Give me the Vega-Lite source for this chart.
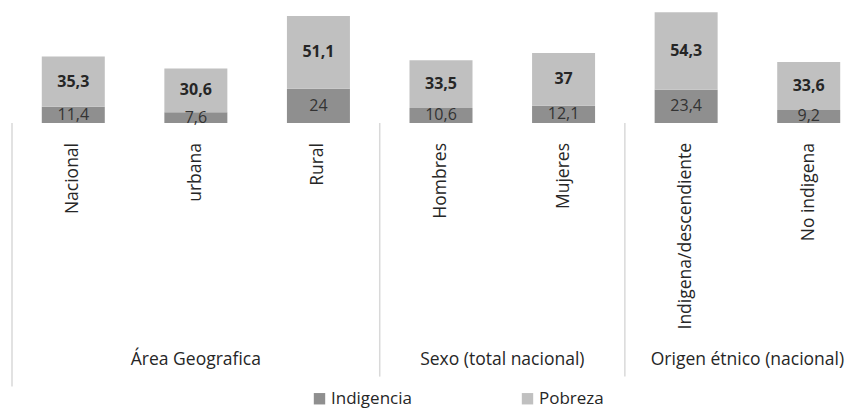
{
  "$schema": "https://vega.github.io/schema/vega-lite/v6.json",
  "width": 858,
  "height": 379,
  "autosize": {"type": "none"},
  "padding": {"left": 12, "top": 9, "right": 0, "bottom": 21},
  "background": "white",
  "config": {
    "view": {"stroke": null},
    "font": "Open Sans",
    "locale": {"number": {"decimal": ",", "thousands": ".", "grouping": [3], "currency": ["", " €"]}}
  },
  "datasets": {
    "valores": [
      {"categoria": "Nacional", "serie": "Indigencia", "valor": 11.4},
      {"categoria": "Nacional", "serie": "Pobreza", "valor": 35.3},
      {"categoria": "urbana", "serie": "Indigencia", "valor": 7.6},
      {"categoria": "urbana", "serie": "Pobreza", "valor": 30.6},
      {"categoria": "Rural", "serie": "Indigencia", "valor": 24},
      {"categoria": "Rural", "serie": "Pobreza", "valor": 51.1},
      {"categoria": "Hombres", "serie": "Indigencia", "valor": 10.6},
      {"categoria": "Hombres", "serie": "Pobreza", "valor": 33.5},
      {"categoria": "Mujeres", "serie": "Indigencia", "valor": 12.1},
      {"categoria": "Mujeres", "serie": "Pobreza", "valor": 37},
      {"categoria": "Indigena/descendiente", "serie": "Indigencia", "valor": 23.4},
      {"categoria": "Indigena/descendiente", "serie": "Pobreza", "valor": 54.3},
      {"categoria": "No indigena", "serie": "Indigencia", "valor": 9.2},
      {"categoria": "No indigena", "serie": "Pobreza", "valor": 33.6}
    ],
    "grupos": [
      {"grupo": "Área Geografica", "inicio": "Nacional", "ancla": "urbana", "tipo": "impar"},
      {"grupo": "Sexo (total nacional)", "inicio": "Hombres", "ancla": "Mujeres", "tipo": "par"},
      {"grupo": "Origen étnico (nacional)", "inicio": "Indigena/descendiente", "ancla": "No indigena", "tipo": "par"}
    ]
  },
  "layer": [
    {
      "data": {"name": "valores"},
      "mark": {"type": "bar", "width": {"band": 0.514}},
      "encoding": {
        "x": {"field": "categoria", "type": "nominal", "axis": null,
          "scale": {"domain": ["Nacional", "urbana", "Rural", "Hombres", "Mujeres", "Indigena/descendiente", "No indigena"], "paddingInner": 0, "paddingOuter": 0}},
        "y": {"field": "valor", "type": "quantitative", "stack": "zero", "axis": null,
          "scale": {"domain": [-186, 80], "nice": false, "zero": false}},
        "color": {"field": "serie", "type": "nominal",
          "scale": {"domain": ["Indigencia", "Pobreza"], "range": ["#8f8f8f", "#c0c0c0"]},
          "legend": {"orient": "none", "legendX": 299, "legendY": 381, "direction": "horizontal", "title": null,
            "symbolType": "square", "symbolSize": 130, "symbolStrokeWidth": 0, "labelFontSize": 17, "labelFont": "Open Sans",
            "labelColor": "#262626", "columnPadding": 107, "labelOffset": 3, "padding": 0}},
        "order": {"field": "serie", "sort": "ascending"}
      }
    },
    {
      "data": {"name": "valores"},
      "transform": [
        {"stack": "valor", "groupby": ["categoria"], "sort": [{"field": "serie", "order": "ascending"}], "as": ["v0", "v1"]},
        {"fold": ["v0", "v1"], "as": ["extremo", "pos"]},
        {"aggregate": [{"op": "mean", "field": "pos", "as": "medio"}], "groupby": ["categoria", "serie", "valor"]}
      ],
      "layer": [
        {
          "transform": [{"filter": "datum.serie === 'Pobreza'"}],
          "mark": {"type": "text", "fontSize": 16, "fontWeight": "bold", "color": "#262626", "baseline": "middle"},
          "encoding": {
            "x": {"field": "categoria", "type": "nominal"},
            "y": {"field": "medio", "type": "quantitative"},
            "text": {"field": "valor", "type": "quantitative", "format": "~r"}
          }
        },
        {
          "transform": [{"filter": "datum.serie === 'Indigencia'"}],
          "mark": {"type": "text", "fontSize": 16, "color": "#333333", "baseline": "middle"},
          "encoding": {
            "x": {"field": "categoria", "type": "nominal"},
            "y": {"field": "medio", "type": "quantitative"},
            "text": {"field": "valor", "type": "quantitative", "format": "~r"}
          }
        }
      ]
    },
    {
      "data": {"name": "valores"},
      "transform": [{"filter": "datum.serie === 'Pobreza'"}],
      "mark": {"type": "text", "angle": 270, "align": "right", "baseline": "middle", "dx": -20, "fontSize": 17.5, "color": "#262626"},
      "encoding": {
        "x": {"field": "categoria", "type": "nominal"},
        "y": {"datum": 0},
        "text": {"field": "categoria"}
      }
    },
    {
      "data": {"name": "grupos"},
      "transform": [{"filter": "datum.tipo === 'impar'"}],
      "mark": {"type": "text", "baseline": "middle", "fontSize": 17.5, "color": "#262626"},
      "encoding": {
        "x": {"field": "ancla", "type": "nominal", "bandPosition": 0.5},
        "y": {"datum": -166},
        "text": {"field": "grupo"}
      }
    },
    {
      "data": {"name": "grupos"},
      "transform": [{"filter": "datum.tipo === 'par'"}],
      "mark": {"type": "text", "baseline": "middle", "fontSize": 17.5, "color": "#262626"},
      "encoding": {
        "x": {"field": "ancla", "type": "nominal", "bandPosition": 0},
        "y": {"datum": -166},
        "text": {"field": "grupo"}
      }
    },
    {
      "data": {"name": "grupos"},
      "transform": [{"filter": "datum.tipo === 'par'"}],
      "mark": {"type": "rule", "color": "#d9d9d9", "strokeWidth": 1.5},
      "encoding": {
        "x": {"field": "inicio", "type": "nominal", "bandPosition": 0},
        "y": {"datum": 0},
        "y2": {"datum": -178}
      }
    },
    {
      "data": {"name": "grupos"},
      "transform": [{"filter": "datum.tipo === 'impar'"}],
      "mark": {"type": "rule", "color": "#d9d9d9", "strokeWidth": 1.5},
      "encoding": {
        "x": {"field": "inicio", "type": "nominal", "bandPosition": 0},
        "y": {"datum": 0},
        "y2": {"datum": -185}
      }
    }
  ]
}
